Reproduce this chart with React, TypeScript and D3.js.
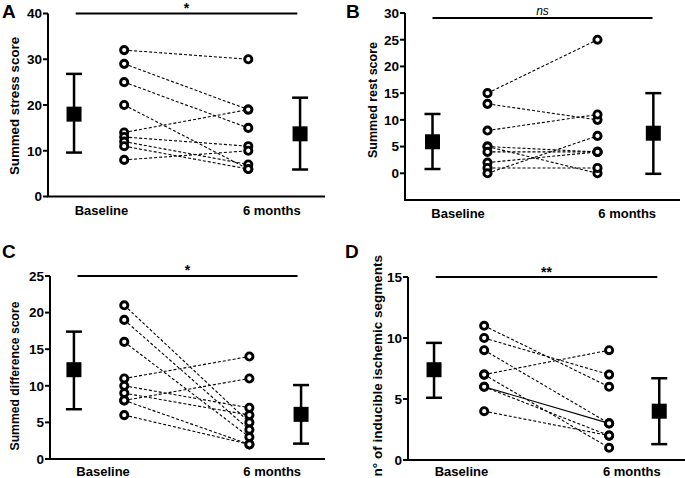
import React from "react";
import * as d3 from "d3";

// ---------- data ----------
const categories = ["Baseline", "6 months"];
const panelLetters = ["A", "B", "C", "D"];
const yTitles = [
  "Summed stress score",
  "Summed rest score",
  "Summed difference score",
  "n° of inducible ischemic segments",
];
const sigMarks = ["*", "ns", "*", "**"];

// A: summed stress score
const stressBaseline = [32, 29, 25, 20, 14, 13, 12, 11, 8];
const stressSixMonths = [30, 19, 15, 6, 19, 11, 7, 6, 10];
const stressMean = [18.0, 13.7];
const stressLow = [9.6, 5.9];
const stressHigh = [26.8, 21.6];
const stressTicks = [0, 10, 20, 30, 40];
const stressDomain = [0, 40];

// B: summed rest score
const restBaseline = [15, 13, 8, 5, 5, 4, 2, 1, 0];
const restSixMonths = [25, 10, 11, 0, 4, 4, 4, 1, 7];
const restMean = [5.9, 7.5];
const restLow = [0.8, -0.1];
const restHigh = [11.1, 15.0];
const restTicks = [0, 5, 10, 15, 20, 25, 30];
const restDomain = [-5, 30];

// C: summed difference score
const diffBaseline = [21, 19, 16, 11, 10, 9, 8, 8, 6];
const diffSixMonths = [5, 4, 3, 14, 7, 6, 11, 2, 2];
const diffMean = [12.2, 6.1];
const diffLow = [6.8, 2.1];
const diffHigh = [17.4, 10.1];
const diffTicks = [0, 5, 10, 15, 20, 25];
const diffDomain = [0, 25];

// D: number of inducible ischemic segments
const segBaseline = [11, 10, 9, 7, 7, 6, 6, 4];
const segSixMonths = [6, 7, 3, 9, 1, 3, 2, 2];
const segSolid = [false, false, false, false, false, true, false, false];
const segMean = [7.4, 4.0];
const segLow = [5.1, 1.3];
const segHigh = [9.6, 6.7];
const segTicks = [0, 5, 10, 15];
const segDomain = [0, 15];

// ---------- layout (positions only) ----------
const layouts = [
  { left: 48, right: 325, top: 13.5, bottom: 196.5, slots: [0.094, 0.275, 0.723, 0.91], sigY: 13.5, letterX: 2, letterY: 18, titleX: 19, titleY: 106, titleAnchor: "middle", titleSize: 13.3, catDy: 18 },
  { left: 405, right: 680, top: 13, bottom: 200, slots: [0.1, 0.3, 0.7, 0.903], sigY: 18, letterX: 346, letterY: 18, titleX: 377, titleY: 100, titleAnchor: "middle", titleSize: 12.5, catDy: 18 },
  { left: 50, right: 325, top: 276, bottom: 459, slots: [0.087, 0.27, 0.725, 0.913], sigY: 276, letterX: 2, letterY: 258, titleX: 19, titleY: 376, titleAnchor: "middle", titleSize: 12.2, catDy: 17 },
  { left: 408, right: 685, top: 277, bottom: 460, slots: [0.094, 0.275, 0.726, 0.907], sigY: 277, letterX: 345, letterY: 258, titleX: 382, titleY: 255, titleAnchor: "end", titleSize: 13.5, catDy: 16 },
];

const panelData = [
  { base: stressBaseline, after: stressSixMonths, solid: null as boolean[] | null, mean: stressMean, low: stressLow, high: stressHigh, ticks: stressTicks, domain: stressDomain },
  { base: restBaseline, after: restSixMonths, solid: null, mean: restMean, low: restLow, high: restHigh, ticks: restTicks, domain: restDomain },
  { base: diffBaseline, after: diffSixMonths, solid: null, mean: diffMean, low: diffLow, high: diffHigh, ticks: diffTicks, domain: diffDomain },
  { base: segBaseline, after: segSixMonths, solid: segSolid, mean: segMean, low: segLow, high: segHigh, ticks: segTicks, domain: segDomain },
];

const FONT = "'Liberation Sans', Arial, Helvetica, sans-serif";

function Panel({ idx }: { idx: number }) {
  const L = layouts[idx];
  const D = panelData[idx];
  const x = d3.scaleLinear().domain([0, 1]).range([L.left, L.right]);
  const y = d3.scaleLinear().domain(D.domain).range([L.bottom, L.top]);
  const [sMean0, sPts0, sPts1, sMean1] = L.slots;
  const sq = 15;
  const cap = 8;
  const line = d3.line<[number, number]>().x((d) => d[0]).y((d) => d[1]);

  return (
    <g fontFamily={FONT} fontWeight="bold">
      <text x={L.letterX} y={L.letterY} fontSize={19}>{panelLetters[idx]}</text>
      <text
        transform={`translate(${L.titleX},${L.titleY}) rotate(-90)`}
        textAnchor={L.titleAnchor}
        fontSize={L.titleSize}
      >
        {yTitles[idx]}
      </text>
      <line x1={L.left} x2={L.left} y1={y(D.domain[1])} y2={L.bottom} stroke="#000" strokeWidth={2} />
      <line x1={L.left - 1} x2={L.right} y1={L.bottom} y2={L.bottom} stroke="#000" strokeWidth={2} />
      {D.ticks.map((t) => (
        <g key={t}>
          <line x1={L.left - 5} x2={L.left} y1={y(t)} y2={y(t)} stroke="#000" strokeWidth={2} />
          <text x={L.left - 6} y={y(t)} dy="0.36em" textAnchor="end" fontSize={13.5}>{t}</text>
        </g>
      ))}
      <text x={x(0.193)} y={L.bottom + L.catDy} textAnchor="middle" fontSize={13}>{categories[0]}</text>
      <text x={x(0.808)} y={L.bottom + L.catDy} textAnchor="middle" fontSize={13}>{categories[1]}</text>
      <line x1={x(0.1)} x2={x(0.9)} y1={L.sigY} y2={L.sigY} stroke="#000" strokeWidth={2} />
      <text
        x={x(0.5)}
        y={idx === 1 ? L.sigY - 3 : L.sigY - 1 + (idx === 3 ? 1 : 0)}
        textAnchor="middle"
        fontSize={idx === 1 ? 12 : 14}
        fontStyle={idx === 1 ? "italic" : "normal"}
        fontWeight={idx === 1 ? "normal" : "bold"}
      >
        {sigMarks[idx]}
      </text>
      {D.base.map((b, i) => (
        <path
          key={"l" + i}
          d={line([[x(sPts0), y(b)], [x(sPts1), y(D.after[i])]]) || ""}
          stroke="#000"
          strokeWidth={1.1}
          strokeDasharray={D.solid && D.solid[i] ? undefined : "3,2"}
          fill="none"
        />
      ))}
      {D.base.map((b, i) => (
        <circle key={"b" + i} cx={x(sPts0)} cy={y(b)} r={3.6} fill="#fff" stroke="#000" strokeWidth={2.9} />
      ))}
      {D.after.map((a, i) => (
        <circle key={"a" + i} cx={x(sPts1)} cy={y(a)} r={3.6} fill="#fff" stroke="#000" strokeWidth={2.9} />
      ))}
      {[sMean0, sMean1].map((s, k) => {
        const cx = x(s);
        return (
          <g key={"m" + k}>
            <line x1={cx} x2={cx} y1={y(D.low[k])} y2={y(D.high[k])} stroke="#000" strokeWidth={2.5} />
            <line x1={cx - cap} x2={cx + cap} y1={y(D.low[k])} y2={y(D.low[k])} stroke="#000" strokeWidth={2.5} />
            <line x1={cx - cap} x2={cx + cap} y1={y(D.high[k])} y2={y(D.high[k])} stroke="#000" strokeWidth={2.5} />
            <rect x={cx - sq / 2} y={y(D.mean[k]) - sq / 2} width={sq} height={sq} fill="#000" />
          </g>
        );
      })}
    </g>
  );
}

export default function App() {
  return (
    <svg
      width={685}
      height={478}
      style={{ position: "absolute", left: 0, top: 0, background: "#fff" }}
    >
      <rect width={685} height={478} fill="#fff" />
      {layouts.map((_, i) => (
        <Panel key={i} idx={i} />
      ))}
    </svg>
  );
}
